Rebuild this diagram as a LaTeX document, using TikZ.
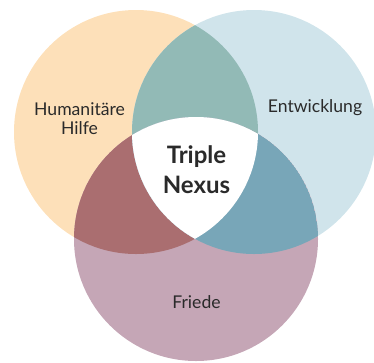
\documentclass[tikz,border=0pt]{standalone}
\usepackage{fontspec}
\setmainfont{Lato}
\definecolor{cyel}{HTML}{FDE0B9}
\definecolor{cblu}{HTML}{D0E4EB}
\definecolor{cpnk}{HTML}{C5A6B6}
\definecolor{cteal}{HTML}{92BAB6}
\definecolor{cred}{HTML}{AA6E70}
\definecolor{cdblu}{HTML}{78A6B8}
\definecolor{ctxt}{HTML}{2A2A2A}
\tikzset{
  lbl/.style={text=ctxt, font=\fontsize{17.6}{19.5}\selectfont, align=center, inner sep=0pt},
  core/.style={text=ctxt, font=\bfseries\fontsize{24}{30}\selectfont, align=center, inner sep=0pt}
}
\begin{document}
\begin{tikzpicture}[x=1pt,y=-1pt]
\useasboundingbox (0,0) rectangle (374,362);
\coordinate (Y) at (136,132);
\coordinate (B) at (254,132);
\coordinate (P) at (196,239);
\def\R{122pt}
\fill[cyel] (Y) circle (\R);
\fill[cblu] (B) circle (\R);
\fill[cpnk] (P) circle (\R);
\begin{scope}
  \clip (Y) circle (\R);
  \fill[cteal] (B) circle (\R);
  \fill[cred] (P) circle (\R);
  \clip (B) circle (\R);
  \fill[white] (P) circle (\R);
\end{scope}
\begin{scope}
  \clip (B) circle (\R);
  \clip (P) circle (\R);
  \fill[cdblu] (P) circle (\R);
  \clip (Y) circle (\R);
  \fill[white] (P) circle (\R);
\end{scope}
\node[lbl] (hum) at (79.5,118.5) {Humanitäre\\Hilfe};
\node[lbl] (ent) at (315,108) {Entwicklung};
\node[lbl] (fri) at (196.5,302) {Friede};
\node[core] (tn) at (196.5,170) {Triple\\Nexus};
\end{tikzpicture}
\end{document}
